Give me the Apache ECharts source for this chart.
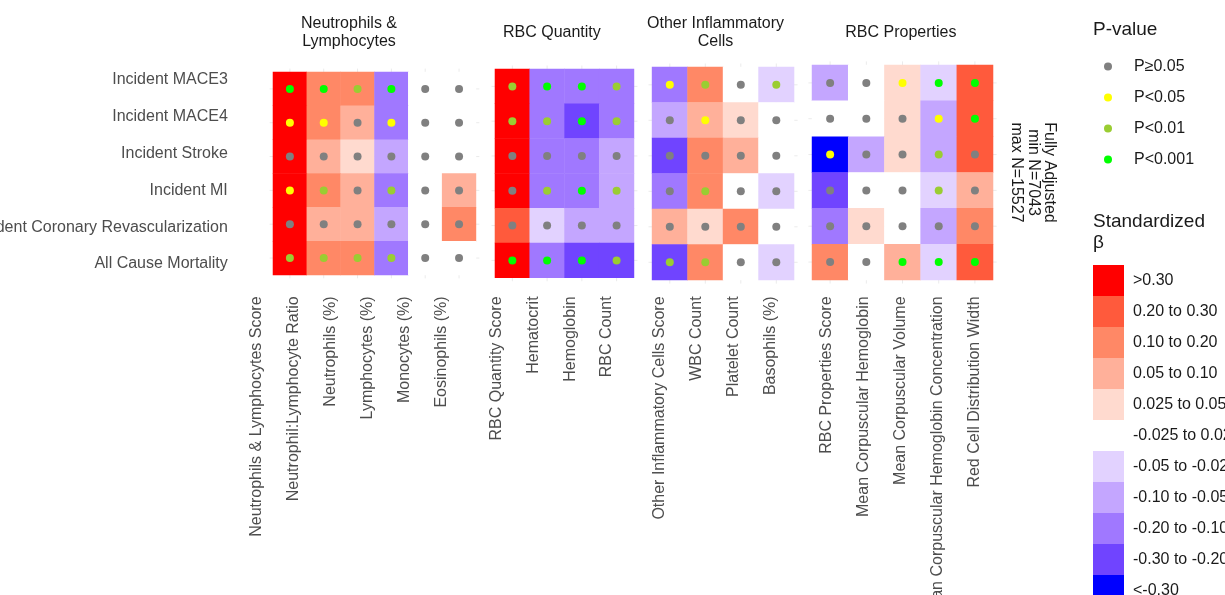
<!DOCTYPE html>
<html><head><meta charset="utf-8">
<script src="https://cdn.jsdelivr.net/npm/echarts@6/dist/echarts.min.js"></script>
<style>html,body{margin:0;padding:0;background:#fff}#c{width:1225px;height:595px}</style>
</head><body><div id="c"></div>
<script>
// ---------------- DATA ----------------
const outcomes = ['Incident MACE3','Incident MACE4','Incident Stroke','Incident MI','Incident Coronary Revascularization','All Cause Mortality'];
const panelTitles = ['Neutrophils &\nLymphocytes','RBC Quantity','Other Inflammatory\nCells','RBC Properties'];

const cols1 = ['Neutrophils & Lymphocytes Score','Neutrophil:Lymphocyte Ratio','Neutrophils (%)','Lymphocytes (%)','Monocytes (%)','Eosinophils (%)'];
const cols2 = ['RBC Quantity Score','Hematocrit','Hemoglobin','RBC Count'];
const cols3 = ['Other Inflammatory Cells Score','WBC Count','Platelet Count','Basophils (%)'];
const cols4 = ['RBC Properties Score','Mean Corpuscular Hemoglobin','Mean Corpuscular Volume','Mean Corpuscular Hemoglobin Concentration','Red Cell Distribution Width'];

// standardized beta, rows = outcomes (top to bottom), columns = measures
const beta1 = [
  [0.36, 0.14, 0.12, -0.13, 0.01, 0.00],
  [0.34, 0.12, 0.08, -0.12, 0.01, 0.01],
  [0.33, 0.07, 0.04, -0.08, 0.00, 0.01],
  [0.35, 0.13, 0.07, -0.14, 0.01, 0.06],
  [0.32, 0.08, 0.06, -0.07, 0.02, 0.11],
  [0.37, 0.15, 0.13, -0.12, 0.00, -0.01]
];
const beta2 = [
  [0.34, -0.15, -0.16, -0.13],
  [0.33, -0.14, -0.22, -0.12],
  [0.36, -0.13, -0.14, -0.08],
  [0.35, -0.16, -0.17, -0.09],
  [0.24, -0.04, -0.07, -0.06],
  [0.38, -0.18, -0.24, -0.23]
];
const beta3 = [
  [-0.14, 0.13, 0.01, -0.03],
  [-0.08, 0.07, 0.03, 0.00],
  [-0.24, 0.15, 0.06, 0.01],
  [-0.13, 0.12, 0.02, -0.04],
  [0.08, 0.04, 0.11, 0.01],
  [-0.26, 0.14, 0.00, -0.03]
];
const beta4 = [
  [-0.07, 0.01, 0.04, -0.03, 0.26],
  [-0.02, 0.00, 0.03, -0.06, 0.24],
  [-0.38, -0.08, 0.04, -0.07, 0.23],
  [-0.27, 0.01, 0.02, -0.04, 0.08],
  [-0.15, 0.03, 0.00, -0.09, 0.13],
  [0.12, -0.01, 0.06, -0.04, 0.27]
];
// p-value class: 0 = P>=0.05, 1 = P<0.05, 2 = P<0.01, 3 = P<0.001
const p1 = [[3,3,2,3,0,0],[1,1,0,1,0,0],[0,0,0,0,0,0],[1,2,0,2,0,0],[0,0,0,0,0,0],[2,2,2,2,0,0]];
const p2 = [[2,3,3,2],[2,2,3,2],[0,0,0,0],[0,2,3,2],[0,0,0,0],[3,3,3,2]];
const p3 = [[1,2,0,2],[0,1,0,0],[0,0,0,0],[0,2,0,0],[0,0,0,0],[2,2,0,0]];
const p4 = [[0,0,1,3,3],[0,0,0,1,3],[1,0,0,2,0],[0,0,0,2,0],[0,0,0,0,0],[0,0,3,3,3]];

const pLabels = ['P\u22650.05','P<0.05','P<0.01','P<0.001'];
const betaLabels = ['>0.30','0.20 to 0.30','0.10 to 0.20','0.05 to 0.10','0.025 to 0.05','-0.025 to 0.025','-0.05 to -0.025','-0.10 to -0.05','-0.20 to -0.10','-0.30 to -0.20','<-0.30'];
const betaBreaks = [0.30, 0.20, 0.10, 0.05, 0.025, -0.025, -0.05, -0.10, -0.20, -0.30];
const noteText = 'Fully Adjusted\nmin N=7043\nmax N=15527';

// ---------------- STYLE / LAYOUT ----------------
const pColors = ['#808080','#ffff00','#9acd32','#00ff00'];
const betaColors = ['#ff0000','#ff5a3c','#ff8866','#ffb09a','#ffdacf','#ffffff','#e2d2ff','#c4a6ff','#a078ff','#7044ff','#0000ff'];
const FONT = '"Liberation Sans", Arial, Helvetica, sans-serif';

const panels = [
  {cols: cols1, beta: beta1, p: p1, tl: 269.6, tt: 68.6, cw: 33.83, ch: 33.83, ll: 237.8, lw: 37.07},
  {cols: cols2, beta: beta2, p: p2, tl: 491.5, tt: 65.5, cw: 34.75, ch: 34.8, ll: 478.3, lw: 36.78},
  {cols: cols3, beta: beta3, p: p3, tl: 648.5, tt: 63.5, cw: 35.5, ch: 35.5, ll: 641.5, lw: 37.0},
  {cols: cols4, beta: beta4, p: p4, tl: 808.4, tt: 61.4, cw: 36.2, ch: 35.83, ll: 808.2, lw: 37.07}
];
const LAB_TOP = 61.6, LAB_H = 220.8;

const grid = [], xAxis = [], yAxis = [], series = [], tileIdx = [];
panels.forEach((P, i) => {
  const n = P.cols.length;
  grid.push({left: P.tl, top: P.tt, width: (n + 0.2) * P.cw, height: 6.2 * P.ch, outerBoundsMode: 'none', containLabel: false});
  xAxis.push({type: 'value', gridIndex: i, min: -0.6, max: n - 0.4, show: false});
  yAxis.push({type: 'value', gridIndex: i, min: -0.6, max: 5.6, inverse: true, show: false});
});
panels.forEach((P, i) => {
  const n = P.cols.length;
  grid.push({left: P.ll, top: LAB_TOP, width: n * P.lw, height: LAB_H, outerBoundsMode: 'none', containLabel: false});
  xAxis.push({type: 'category', gridIndex: 4 + i, data: P.cols,
    axisLine: {show: false}, axisTick: {show: false}, splitLine: {show: false},
    axisLabel: {rotate: 90, interval: 0, margin: 14, fontSize: 16, color: '#4d4d4d', fontFamily: FONT, overflow: 'none', hideOverlap: false}});
  yAxis.push({type: 'category', gridIndex: 4 + i, data: outcomes, inverse: true, show: i === 0,
    axisLine: {show: false}, axisTick: {show: false}, splitLine: {show: false},
    axisLabel: {margin: 10, fontSize: 16, color: '#4d4d4d', fontFamily: FONT, overflow: 'none'}});
});

panels.forEach((P, i) => {
  const n = P.cols.length;
  const gl = [];
  P.cols.forEach((c, k) => gl.push([k, 0]));
  outcomes.forEach((o, k) => gl.push([k, 1]));
  series.push({
    type: 'custom', xAxisIndex: i, yAxisIndex: i, silent: true, data: gl,
    renderItem: (params, api) => {
      const k = api.value(0), t = api.value(1);
      let a, b;
      if (t === 0) { a = api.coord([k, -0.6]); b = api.coord([k, 5.6]); }
      else { a = api.coord([-0.6, k]); b = api.coord([n - 0.4, k]); }
      return {type: 'line', shape: {x1: a[0], y1: a[1], x2: b[0], y2: b[1]}, style: {stroke: '#ebebeb', lineWidth: 1}};
    }
  });
});
panels.forEach((P, i) => {
  const data = [];
  P.beta.forEach((row, r) => row.forEach((v, c) => data.push([c, r, v])));
  tileIdx.push(series.length);
  series.push({
    type: 'custom', xAxisIndex: i, yAxisIndex: i, data: data, encode: {x: 0, y: 1},
    renderItem: (params, api) => {
      const x = api.value(0), y = api.value(1);
      const a = api.coord([x - 0.5, y - 0.5]), b = api.coord([x + 0.5, y + 0.5]);
      return {type: 'rect',
        shape: {x: Math.min(a[0], b[0]) - 0.25, y: Math.min(a[1], b[1]) - 0.25, width: Math.abs(b[0] - a[0]) + 0.5, height: Math.abs(b[1] - a[1]) + 0.5},
        style: {fill: api.visual('color')}};
    }
  });
});
panels.forEach((P, i) => {
  pLabels.forEach((lab, j) => {
    const data = [];
    P.p.forEach((row, r) => row.forEach((v, c) => { if (v === j) data.push([c, r]); }));
    series.push({type: 'scatter', name: lab, xAxisIndex: i, yAxisIndex: i, data: data,
      symbol: 'circle', symbolSize: 8, itemStyle: {color: pColors[j], opacity: 1}, z: 5});
  });
});

const pieces = [];
betaLabels.forEach((lab, k) => {
  const pc = {label: lab, color: betaColors[k]};
  if (k === 0) pc.gt = betaBreaks[0];
  else if (k === betaLabels.length - 1) pc.lt = betaBreaks[betaBreaks.length - 1];
  else if (k < 5) { pc.gt = betaBreaks[k]; pc.lte = betaBreaks[k - 1]; }
  else if (k === 5) { pc.gte = betaBreaks[k]; pc.lte = betaBreaks[k - 1]; }
  else { pc.gte = betaBreaks[k]; pc.lt = betaBreaks[k - 1]; }
  pieces.push(pc);
});

const graphic = [];
panels.forEach((P, i) => {
  const cx = P.ll + P.cols.length * P.lw / 2;
  graphic.push({type: 'text', x: cx, y: 32.5, silent: true,
    style: {text: panelTitles[i], align: 'center', verticalAlign: 'middle', fontSize: 16, lineHeight: 18.5, fontFamily: FONT, fill: '#1a1a1a'}});
});
graphic.push({type: 'text', x: 1058, y: 172.5, rotation: -Math.PI / 2, silent: true,
  style: {text: noteText, align: 'center', verticalAlign: 'top', fontSize: 16, lineHeight: 16.5, fontFamily: FONT, fill: '#1a1a1a'}});
graphic.push({type: 'text', x: 1093, y: 30, silent: true,
  style: {text: 'P-value', align: 'left', verticalAlign: 'middle', fontSize: 19, fontFamily: FONT, fill: '#1a1a1a'}});
graphic.push({type: 'text', x: 1093, y: 232.5, silent: true,
  style: {text: 'Standardized\n\u03b2', align: 'left', verticalAlign: 'middle', fontSize: 19, lineHeight: 21.5, fontFamily: FONT, fill: '#1a1a1a'}});

const chart = echarts.init(document.getElementById('c'), null, {renderer: 'canvas'});
chart.setOption({
  animation: false,
  backgroundColor: '#ffffff',
  grid: grid, xAxis: xAxis, yAxis: yAxis, series: series, graphic: graphic,
  legend: {data: pLabels, orient: 'vertical', left: 1104, top: 58.5, padding: 0, itemGap: 15,
    itemWidth: 8, itemHeight: 8, icon: 'circle', selectedMode: false,
    textStyle: {fontSize: 16, color: '#1a1a1a', fontFamily: FONT, padding: [0, 0, 0, 17]}},
  visualMap: {type: 'piecewise', seriesIndex: tileIdx, dimension: 2, pieces: pieces,
    orient: 'vertical', left: 1093, top: 265, padding: 0, itemWidth: 31, itemHeight: 31, itemGap: 0,
    textGap: 9, align: 'left', itemSymbol: 'rect', selectedMode: false, hoverLink: false,
    textStyle: {fontSize: 16, color: '#1a1a1a', fontFamily: FONT}}
});
</script></body></html>
